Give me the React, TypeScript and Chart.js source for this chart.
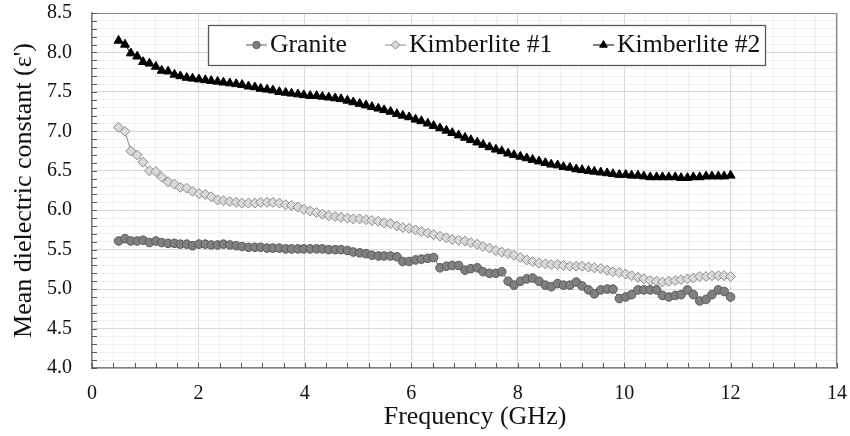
import React, { useEffect, useRef } from "react";
import { Chart, registerables } from "chart.js";

Chart.register(...registerables);

// ---------- data ----------
const frequencyGHz = [
  0.5, 0.62, 0.73, 0.85, 0.96, 1.08, 1.2, 1.31, 1.43, 1.55,
  1.66, 1.78, 1.89, 2.01, 2.13, 2.24, 2.36, 2.47, 2.59, 2.71,
  2.82, 2.94, 3.06, 3.17, 3.29, 3.4, 3.52, 3.64, 3.75, 3.87,
  3.98, 4.1, 4.22, 4.33, 4.45, 4.57, 4.68, 4.8, 4.91, 5.03,
  5.15, 5.26, 5.38, 5.49, 5.61, 5.73, 5.84, 5.96, 6.08, 6.19,
  6.31, 6.42, 6.54, 6.66, 6.77, 6.89, 7.01, 7.12, 7.24, 7.35,
  7.47, 7.59, 7.7, 7.82, 7.93, 8.05, 8.17, 8.28, 8.4, 8.52,
  8.63, 8.75, 8.86, 8.98, 9.1, 9.21, 9.33, 9.44, 9.56, 9.68,
  9.79, 9.91, 10.03, 10.14, 10.26, 10.37, 10.49, 10.61, 10.72, 10.84,
  10.96, 11.07, 11.19, 11.3, 11.42, 11.54, 11.65, 11.77, 11.88, 12.0,
];

const granite = [
  5.61, 5.64, 5.61, 5.61, 5.62, 5.59, 5.61, 5.59, 5.58, 5.58,
  5.57, 5.57, 5.55, 5.57, 5.57, 5.56, 5.56, 5.57, 5.56, 5.55,
  5.54, 5.53, 5.53, 5.53, 5.52, 5.52, 5.52, 5.51, 5.51, 5.51,
  5.51, 5.51, 5.51, 5.51, 5.5, 5.5, 5.5, 5.49, 5.47, 5.46,
  5.45, 5.43, 5.42, 5.42, 5.42, 5.41, 5.35, 5.35, 5.37, 5.38,
  5.39, 5.4, 5.27, 5.29, 5.3, 5.3, 5.24, 5.26, 5.27, 5.22,
  5.2, 5.2, 5.22, 5.1, 5.05, 5.1, 5.13, 5.14, 5.1, 5.05,
  5.03, 5.07, 5.05, 5.05, 5.09, 5.04, 4.99, 4.94, 4.99, 5.0,
  5.0, 4.88, 4.9, 4.93, 4.99, 4.99, 4.99, 4.99, 4.92, 4.9,
  4.92, 4.93, 4.99, 4.93, 4.85, 4.87, 4.93, 4.99, 4.97, 4.9,
];

const kimberlite1 = [
  7.05, 7.0, 6.75, 6.7, 6.61, 6.5, 6.49, 6.42, 6.36, 6.33,
  6.29, 6.28, 6.24, 6.21, 6.2, 6.17, 6.13, 6.12, 6.11, 6.1,
  6.09, 6.09, 6.09, 6.1, 6.1, 6.1, 6.09, 6.07, 6.06, 6.04,
  6.01, 5.99, 5.97, 5.95, 5.93, 5.92, 5.91, 5.9, 5.89, 5.89,
  5.88, 5.87, 5.86, 5.84, 5.83, 5.8, 5.78, 5.77, 5.75, 5.73,
  5.71, 5.69, 5.67, 5.65, 5.63, 5.62, 5.61, 5.59, 5.57, 5.54,
  5.52, 5.49, 5.47, 5.45, 5.43, 5.4, 5.37, 5.35, 5.33, 5.32,
  5.31, 5.31, 5.3, 5.29, 5.29, 5.29, 5.28, 5.27, 5.26, 5.24,
  5.22, 5.21, 5.19, 5.17, 5.15, 5.13, 5.11, 5.1, 5.09, 5.1,
  5.11, 5.12, 5.13, 5.14, 5.16, 5.16, 5.17, 5.17, 5.17, 5.16,
];

const kimberlite2 = [
  8.15, 8.1, 7.99, 7.95, 7.88, 7.86, 7.82, 7.77, 7.76, 7.72,
  7.7, 7.68, 7.67, 7.66, 7.65, 7.64, 7.63, 7.62, 7.61, 7.6,
  7.59, 7.57, 7.56, 7.54, 7.53, 7.52, 7.5, 7.49, 7.48, 7.47,
  7.46, 7.45, 7.45, 7.44, 7.43, 7.42, 7.41, 7.39, 7.37, 7.35,
  7.33, 7.31, 7.29, 7.27, 7.25, 7.22, 7.2, 7.18, 7.15, 7.13,
  7.1, 7.07, 7.04, 7.01, 6.98, 6.95, 6.92, 6.89, 6.86, 6.83,
  6.8, 6.77, 6.75, 6.72, 6.7, 6.68, 6.66, 6.64, 6.62, 6.6,
  6.58, 6.57, 6.55, 6.54, 6.52, 6.51, 6.5, 6.49, 6.48, 6.47,
  6.46, 6.45, 6.45, 6.44, 6.44, 6.43, 6.42, 6.42, 6.42, 6.42,
  6.42, 6.41, 6.41, 6.42, 6.42, 6.43, 6.43, 6.43, 6.43, 6.44,
];

const seriesNames = ["Granite", "Kimberlite #1", "Kimberlite #2"];
const xTickLabels = [0, 2, 4, 6, 8, 10, 12, 14];
const yTickLabels = [4.0, 4.5, 5.0, 5.5, 6.0, 6.5, 7.0, 7.5, 8.0, 8.5];
const xAxisTitle = "Frequency (GHz)";
const yAxisTitle = "Mean dielectric constant (ε')";

// ---------- styles ----------
const FONT = '"Liberation Serif", "Times New Roman", serif';
const TEXT = "#111111";

const seriesStyles = [
  { pointStyle: "circle", radius: 4.3, fill: "#808080", stroke: "#595959", line: "#595959" },
  { pointStyle: "rectRot", radius: 5.0, fill: "#d9d9d9", stroke: "#8c8c8c", line: "#8c8c8c" },
  { pointStyle: "triangle", radius: 5.2, fill: "#000000", stroke: "#000000", line: "#000000" },
];

const near = (v: number, list: number[]) => list.some((t) => Math.abs(t - v) < 1e-6);

function drawMarker(ctx: CanvasRenderingContext2D, style: string, x: number, y: number, r: number) {
  ctx.beginPath();
  if (style === "circle") {
    ctx.arc(x, y, r, 0, Math.PI * 2);
  } else if (style === "rectRot") {
    ctx.moveTo(x, y - r);
    ctx.lineTo(x + r, y);
    ctx.lineTo(x, y + r);
    ctx.lineTo(x - r, y);
  } else {
    const a = (2 * Math.PI) / 3;
    ctx.moveTo(x, y - r);
    ctx.lineTo(x + Math.sin(a) * r, y - Math.cos(a) * r);
    ctx.lineTo(x + Math.sin(2 * a) * r, y - Math.cos(2 * a) * r);
  }
  ctx.closePath();
  ctx.fill();
  ctx.stroke();
}

const framePlugin = {
  id: "frameAndTicks",
  beforeDatasetsDraw(chart: any) {
    const { ctx, chartArea, scales } = chart;
    ctx.save();
    ctx.strokeStyle = "#8c8c8c";
    ctx.lineWidth = 1.2;
    ctx.beginPath();
    ctx.moveTo(chartArea.left, chartArea.top + 0.5);
    ctx.lineTo(chartArea.right - 0.5, chartArea.top + 0.5);
    ctx.lineTo(chartArea.right - 0.5, chartArea.bottom);
    ctx.stroke();
    // inward tick marks
    ctx.strokeStyle = "#595959";
    ctx.lineWidth = 1;
    ctx.beginPath();
    scales.y.ticks.forEach((t: any) => {
      const py = Math.round(scales.y.getPixelForValue(t.value)) + 0.5;
      ctx.moveTo(chartArea.left, py);
      ctx.lineTo(chartArea.left + 5, py);
    });
    scales.x.ticks.forEach((t: any) => {
      const px = Math.round(scales.x.getPixelForValue(t.value)) + 0.5;
      ctx.moveTo(px, chartArea.bottom);
      ctx.lineTo(px, chartArea.bottom - 5);
    });
    ctx.stroke();
    // x-axis title (slightly right of centre, as in the reference)
    ctx.fillStyle = TEXT;
    ctx.font = `26px ${FONT}`;
    ctx.textAlign = "center";
    ctx.textBaseline = "middle";
    ctx.fillText(xAxisTitle, 475, 417);
    ctx.restore();
  },
};

const legendPlugin = {
  id: "boxedLegend",
  afterDraw(chart: any) {
    const ctx = chart.ctx as CanvasRenderingContext2D;
    const box = { x: 208.5, y: 25.5, w: 557, h: 40 };
    const cy = 45;
    const itemStarts = [246, 385, 593];
    ctx.save();
    ctx.fillStyle = "#ffffff";
    ctx.fillRect(box.x, box.y, box.w, box.h);
    ctx.strokeStyle = "#595959";
    ctx.lineWidth = 1.3;
    ctx.strokeRect(box.x, box.y, box.w, box.h);
    ctx.font = `25.7px ${FONT}`;
    ctx.textBaseline = "middle";
    ctx.textAlign = "left";
    chart.data.datasets.forEach((ds: any, i: number) => {
      const st = seriesStyles[i];
      const sx = itemStarts[i];
      ctx.strokeStyle = st.line;
      ctx.lineWidth = 1;
      ctx.beginPath();
      ctx.moveTo(sx, cy);
      ctx.lineTo(sx + 21, cy);
      ctx.stroke();
      ctx.fillStyle = st.fill;
      ctx.strokeStyle = st.stroke;
      drawMarker(ctx, st.pointStyle, sx + 10.5, cy, st.radius * 0.85);
      ctx.fillStyle = TEXT;
      ctx.fillText(ds.label, sx + 24, cy);
    });
    ctx.restore();
  },
};

export default function App() {
  const canvasRef = useRef<HTMLCanvasElement | null>(null);

  useEffect(() => {
    if (!canvasRef.current) return;
    const seriesValues = [granite, kimberlite1, kimberlite2];
    const datasets = seriesValues.map((vals, i) => {
      const st = seriesStyles[i];
      return {
        label: seriesNames[i],
        data: frequencyGHz.map((f, j) => ({ x: f, y: vals[j] })),
        borderColor: st.line,
        borderWidth: 1,
        backgroundColor: st.fill,
        pointStyle: st.pointStyle,
        pointRadius: st.radius,
        pointBackgroundColor: st.fill,
        pointBorderColor: st.stroke,
        pointBorderWidth: 1,
        tension: 0,
        fill: false,
      };
    });

    const chart = new Chart(canvasRef.current, {
      type: "line",
      data: { datasets } as any,
      plugins: [framePlugin, legendPlugin],
      options: {
        animation: false,
        responsive: false,
        devicePixelRatio: 1,
        events: [],
        layout: { padding: { top: 13, right: 13, left: 0, bottom: 0 } },
        plugins: { legend: { display: false }, tooltip: { enabled: false } },
        scales: {
          x: {
            type: "linear",
            min: 0,
            max: 14,
            afterFit: (s: any) => {
              s.height = 68;
              s.paddingLeft = 0;
              s.paddingRight = 0;
            },
            border: { color: "#7f7f7f", width: 1.5 },
            grid: {
              drawTicks: false,
              lineWidth: 1,
              color: (c: any) => (near(c.tick.value, xTickLabels) ? "#d9d9d9" : "#efefef"),
            },
            ticks: {
              stepSize: 0.4,
              autoSkip: false,
              maxRotation: 0,
              padding: 14,
              color: TEXT,
              font: { family: FONT, size: 20 },
              callback: (v: any) => (near(Number(v), xTickLabels) ? String(Math.round(Number(v))) : ""),
            },
            title: { display: false, text: xAxisTitle },
          },
          y: {
            type: "linear",
            min: 4,
            max: 8.5,
            afterFit: (s: any) => {
              s.width = 92;
              s.paddingTop = 0;
              s.paddingBottom = 0;
            },
            border: { color: "#7f7f7f", width: 1.5 },
            grid: {
              drawTicks: false,
              lineWidth: 1,
              color: (c: any) => (near(c.tick.value, yTickLabels) ? "#d9d9d9" : "#efefef"),
            },
            ticks: {
              stepSize: 0.1,
              autoSkip: false,
              padding: 20,
              color: TEXT,
              font: { family: FONT, size: 20 },
              callback: (v: any) => (near(Number(v), yTickLabels) ? Number(v).toFixed(1) : ""),
            },
            title: {
              display: true,
              text: yAxisTitle,
              color: TEXT,
              font: { family: FONT, size: 26 },
              padding: { top: 9, bottom: 0 },
            },
          },
        },
      } as any,
    });
    return () => chart.destroy();
  }, []);

  return (
    <div style={{ position: "fixed", left: 0, top: 0, width: 850, height: 436, background: "#fff" }}>
      <canvas ref={canvasRef} width={850} height={436} style={{ width: 850, height: 436, display: "block" }} />
    </div>
  );
}
